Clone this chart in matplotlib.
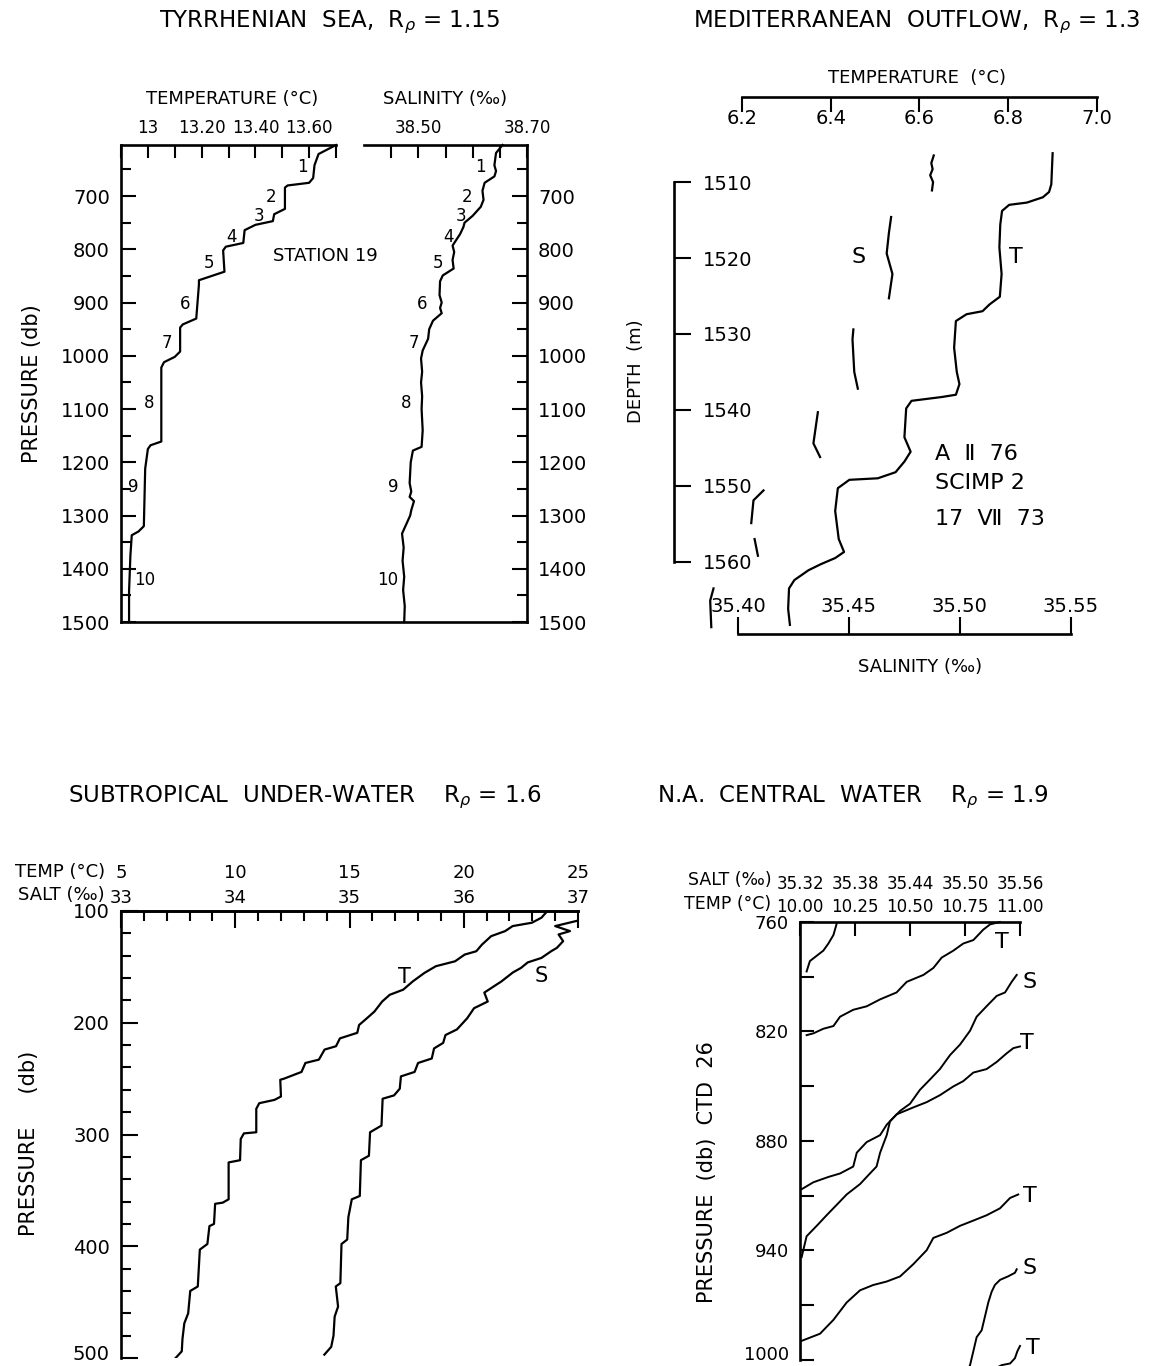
import matplotlib
matplotlib.use("Agg")
import matplotlib.pyplot as plt
from matplotlib.ticker import FixedLocator
from matplotlib.transforms import ScaledTranslation

nan = float("nan")

# --- Tyrrhenian Sea, station 19 (pressure in db) ---
a_temp = [13.70, 13.635, 13.62, 13.615, 13.60, 13.52, 13.51, 13.51, 13.47, 13.465, 13.40, 13.36,
          13.355, 13.29, 13.28, 13.285, 13.19, 13.19, 13.18, 13.13, 13.12, 13.12, 13.10, 13.06,
          13.05, 13.05, 13.01, 13.00, 12.99, 12.985, 12.965, 12.94, 12.935, 12.93, 12.93]
a_temp_p = [604, 621, 642, 666, 675, 680, 684, 724, 734, 747, 754, 764, 788, 795, 802, 842, 858,
            866, 930, 941, 947, 992, 1002, 1012, 1022, 1161, 1168, 1175, 1212, 1320, 1330, 1337,
            1375, 1442, 1500]
a_sal = [38.655, 38.643, 38.640, 38.643, 38.640, 38.622, 38.618, 38.620, 38.615, 38.600, 38.585,
         38.583, 38.577, 38.570, 38.563, 38.566, 38.563, 38.565, 38.545, 38.540, 38.539, 38.543,
         38.540, 38.543, 38.527, 38.520, 38.518, 38.508, 38.505, 38.507, 38.505, 38.507, 38.506,
         38.508, 38.506, 38.490, 38.486, 38.484, 38.487, 38.484, 38.492, 38.487, 38.485, 38.470,
         38.473, 38.471, 38.474, 38.472, 38.475, 38.474]
a_sal_p = [604, 619, 642, 653, 663, 675, 690, 707, 720, 737, 750, 758, 771, 782, 793, 805, 820, 836,
           849, 860, 886, 900, 910, 920, 934, 950, 968, 990, 1005, 1030, 1050, 1076, 1100, 1140,
           1171, 1178, 1200, 1239, 1255, 1265, 1273, 1290, 1300, 1334, 1360, 1385, 1415, 1440,
           1470, 1500]
a_layers = ['1', '2', '3', '4', '5', '6', '7', '8', '9', '10']
a_layer_t = [13.576, 13.46, 13.413, 13.31, 13.228, 13.14, 13.07, 13.003, 12.944, 12.99]
a_layer_s = [38.615, 38.59, 38.578, 38.556, 38.537, 38.507, 38.492, 38.478, 38.453, 38.443]
a_layer_p = [646, 702, 737, 777, 825, 902, 975, 1088, 1246, 1422]

# --- Mediterranean outflow (depth in m) ---
b_temp = [6.90, 6.897, 6.892, 6.878, 6.842, 6.802, 6.786, 6.782, 6.78, 6.785, 6.781, 6.758, 6.742,
          6.706, 6.682, 6.678, 6.684, 6.69, 6.682, 6.65, 6.582, 6.57, 6.566, 6.58, 6.566, 6.546,
          6.506, 6.442, 6.416, 6.41, 6.418, 6.43, 6.41, 6.378, 6.35, 6.318, 6.306, 6.304, 6.308]
b_temp_d = [1506.2, 1510.3, 1511.3, 1512.0, 1512.7, 1513.0, 1513.8, 1515.6, 1518.6, 1522.1, 1525.1,
            1526.1, 1527.0, 1527.4, 1528.3, 1531.8, 1535.0, 1536.6, 1538.0, 1538.3, 1538.8, 1539.8,
            1543.6, 1545.5, 1546.8, 1548.2, 1549.0, 1549.2, 1550.3, 1553.3, 1557.0, 1558.7, 1559.5,
            1560.3, 1561.1, 1562.4, 1563.5, 1566.2, 1568.3]
b_sal = [35.4882, 35.4871, 35.4877, 35.4866, 35.4879, 35.4874, nan,
         35.469, 35.468, 35.467, 35.4696, 35.468, nan,
         35.452, 35.4516, 35.4524, 35.454, nan,
         35.436, 35.434, 35.437, nan,
         35.4115, 35.407, 35.406, nan,
         35.4075, 35.409, nan,
         35.389, 35.3875, 35.388]
b_sal_d = [1506.5, 1507.5, 1508.3, 1509.1, 1510.0, 1511.1, nan,
           1514.6, 1516.7, 1519.4, 1522.1, 1525.3, nan,
           1529.4, 1530.7, 1535.0, 1537.2, nan,
           1540.3, 1544.4, 1546.2, nan,
           1550.6, 1551.9, 1554.9, nan,
           1557.0, 1559.2, nan,
           1563.5, 1565.1, 1568.6]

# --- Subtropical under-water (pressure in db) ---
c_temp = [23.66, 23.4, 22.98, 22.14, 21.81, 21.2, 20.8, 20.55, 20.04, 19.62, 18.78, 18.28, 17.77,
          17.35, 16.76, 16.43, 16.09, 15.76, 15.42, 15.34, 14.58, 14.41, 13.91, 13.66, 13.07, 12.9,
          12.14, 11.97, 12.0, 11.72, 11.05, 10.92, 10.92, 10.38, 10.24, 10.21, 9.71, 9.71, 9.45,
          9.12, 9.07, 8.87, 8.78, 8.45, 8.36, 8.03, 7.94, 7.77, 7.69, 7.66, 7.39]
c_temp_p = [100, 106, 110.5, 113.5, 118, 122.5, 130, 136, 139, 145, 149.4, 155.4, 163, 170.4, 175,
            181, 190, 196, 202, 209, 214, 221, 224, 233, 236, 244, 250, 251, 266, 269, 272, 277,
            298, 299, 304, 323, 325, 358, 361, 362, 380, 382, 398, 403, 436, 440, 460, 469, 483,
            494, 500]
c_sal = [36.983, 36.80, 36.93, 36.83, 36.87, 36.815, 36.765, 36.68, 36.56, 36.5, 36.43, 36.33,
         36.24, 36.18, 36.21, 36.09, 36.03, 35.94, 35.84, 35.82, 35.74, 35.72, 35.6, 35.57, 35.45,
         35.44, 35.39, 35.29, 35.28, 35.18, 35.17, 35.1, 35.09, 35.02, 34.99, 34.98, 34.93, 34.92,
         34.88, 34.9, 34.87, 34.86, 34.84, 34.78]
c_sal_p = [109, 113.5, 118, 121, 127, 133, 136, 142, 146, 151, 155, 163, 169, 173, 181, 187, 196,
           206, 211, 218, 223, 232, 236, 244, 248, 259, 265, 268, 292, 298, 319, 323, 355, 358,
           374, 394, 398, 433, 436, 454, 463, 480, 490, 497]

# --- N.A. Central Water, CTD 26 (pressure in db) ---
d_temp = [10.030, 10.045, 10.076, 10.106, 10.129, 10.152, 10.167, nan,
          10.030, 10.061, 10.106, 10.152, 10.182, 10.242, 10.303, 10.364, 10.439, 10.485, 10.561,
          10.606, 10.644, 10.697, 10.742, 10.788, 10.833, 10.864, 10.909, nan,
          10.0076, 10.061, 10.129, 10.182, 10.242, 10.258, 10.303, 10.364, 10.394, 10.439, 10.515,
          10.576, 10.636, 10.697, 10.742, 10.788, 10.848, 10.894, 10.939, 10.970, 11.0, nan,
          10.0076, 10.091, 10.152, 10.212, 10.273, 10.333, 10.394, 10.455, 10.515, 10.576, 10.606,
          10.667, 10.727, 10.788, 10.848, 10.909, 10.955, 10.992, nan,
          10.871, 10.886, 10.917, 10.955, 10.977, 10.988, 11.0]
d_temp_p = [787.1, 781.4, 778.5, 775.7, 771.8, 767.1, 760.8, nan,
            822.0, 821.0, 818.5, 817.0, 811.9, 808.1, 806.2, 802.4, 798.6, 792.8, 789.0,
            785.2, 779.5, 775.7, 771.8, 769.9, 764.2, 761.3, 760.0, nan,
            906.4, 902.6, 899.7, 897.8, 894.0, 886.4, 880.6, 876.8, 871.1, 865.4, 861.6,
            858.7, 854.9, 850.1, 847.2, 842.5, 840.6, 836.7, 832.0, 829.1, 828.2, nan,
            989.5, 985.6, 978.0, 968.5, 961.8, 958.9, 957.0, 954.2, 947.5, 939.8, 933.1,
            930.3, 926.5, 923.6, 920.7, 916.9, 911.2, 909.3, nan,
            1008.5, 1004.7, 1002.8, 1001.9, 999.0, 995.2, 992.3]
d_sal = [35.3218, 35.3272, 35.3382, 35.349, 35.36, 35.3709, 35.3855, 35.3963, 35.4035, 35.4074,
         35.4146, 35.4182, 35.4292, 35.44, 35.4508, 35.4618, 35.4726, 35.4837, 35.4945, 35.5055,
         35.5127, 35.5235, 35.5346, 35.5437, 35.5509, 35.5564, nan,
         35.5, 35.5055, 35.5091, 35.5127, 35.5182, 35.5218, 35.5254, 35.529, 35.5326, 35.5382,
         35.5473, 35.5545, 35.5564]
d_sal_p = [943.6, 932.2, 926.5, 920.7, 915.0, 909.3, 903.6, 897.8, 894.0, 886.4, 876.8, 869.2,
           863.5, 859.6, 852.0, 846.3, 840.6, 832.9, 827.2, 819.6, 811.9, 806.2, 800.5, 798.6,
           792.8, 789.0, nan,
           1008.5, 1002.8, 995.2, 987.5, 983.7, 976.1, 968.5, 962.7, 958.9, 956.1, 954.1, 952.2,
           950.3]
d_tags = ['T', 'S', 'T', 'T', 'S', 'T']
d_tag_t = [10.917, 11.045, 11.03, 11.045, 11.045, 11.06]
d_tag_p = [770.9, 792.8, 826.2, 910.2, 949.4, 993.3]

W, H = 1159, 1366
LW = 1.6
plt.rcParams['font.family'] = ['DejaVu Sans']
plt.rcParams['axes.linewidth'] = 1.9
for k in ['xtick.major.width', 'ytick.major.width', 'xtick.minor.width', 'ytick.minor.width']:
    plt.rcParams[k] = 1.5

fig = plt.figure(figsize=(W / 100, H / 100), dpi=100)


def box(l, t, r, b):
    # axes placed by pixel edges of the reference
    return fig.add_axes([l / W, 1 - b / H, (r - l) / W, (b - t) / H])


def only_spines(ax, keep):
    for name, sp in ax.spines.items():
        sp.set_visible(name in keep)
    ax.set_facecolor('none')


def title(x, y, s):
    fig.text(x / W, 1 - y / H, s, ha='center', va='center', fontsize=16.5)


def lift_last_ylabel(ax, px):
    # bottom tick label sits at the page edge; nudge it up a few pixels
    lbl = ax.get_yticklabels()[-1]
    lbl.set_transform(lbl.get_transform() + ScaledTranslation(0, px / 100, fig.dpi_scale_trans))


# ================= TYRRHENIAN SEA =================
title(329, 22, r'TYRRHENIAN  SEA,  R$_\rho$ = 1.15')
axA = box(121, 145, 527, 622)
axA.set_ylim(1500, 604)
only_spines(axA, ['left', 'right', 'bottom'])
axA.set_xticks([])
axA.yaxis.set_major_locator(FixedLocator(range(700, 1501, 100)))
axA.yaxis.set_minor_locator(FixedLocator(range(650, 1451, 100)))
axA.tick_params(axis='y', which='both', direction='in', left=True, right=True,
                labelleft=True, labelright=True, labelsize=14, pad=8)
axA.tick_params(axis='y', which='major', length=11)
axA.tick_params(axis='y', which='minor', length=7)
axA.set_ylabel('PRESSURE (db)', fontsize=15)
axA.yaxis.set_label_coords(-0.195, 0.5)

axT = box(121, 145, 336, 622)
axT.set_ylim(1500, 604)
axT.set_xlim(12.90, 13.70)
only_spines(axT, ['top'])
axT.set_yticks([])
axT.xaxis.tick_top()
axT.set_xticks([13.0, 13.2, 13.4, 13.6], labels=['13', '13.20', '13.40', '13.60'])
axT.xaxis.set_minor_locator(FixedLocator([12.9, 13.1, 13.3, 13.5, 13.7]))
axT.tick_params(axis='x', which='both', direction='in', length=9, labelsize=12, pad=6)
axT.set_xlabel('TEMPERATURE (°C)', fontsize=13)
axT.xaxis.set_label_position('top')
axT.xaxis.set_label_coords(0.516, 1.086)
axT.plot(a_temp, a_temp_p, color='k', lw=LW, clip_on=False)
for lab, t, p in zip(a_layers, a_layer_t, a_layer_p):
    axT.text(t, p, lab, fontsize=12, ha='center', va='center')
axT.text(13.66, 812, 'STATION 19', fontsize=13, ha='center', va='center')

axS = box(364, 145, 527, 622)
axS.set_ylim(1500, 604)
axS.set_xlim(38.40, 38.70)
only_spines(axS, ['top'])
axS.set_yticks([])
axS.xaxis.tick_top()
axS.set_xticks([38.50, 38.70], labels=['38.50', '38.70'])
axS.xaxis.set_minor_locator(FixedLocator([38.45, 38.55, 38.60, 38.65]))
axS.tick_params(axis='x', which='both', direction='in', length=9, labelsize=12, pad=6)
axS.set_xlabel('SALINITY (‰)', fontsize=13)
axS.xaxis.set_label_position('top')
axS.xaxis.set_label_coords(0.497, 1.086)
axS.plot(a_sal, a_sal_p, color='k', lw=LW, clip_on=False)
for lab, s, p in zip(a_layers, a_layer_s, a_layer_p):
    axS.text(s, p, lab, fontsize=12, ha='center', va='center')

# ================= MEDITERRANEAN OUTFLOW =================
title(917, 22, r'MEDITERRANEAN  OUTFLOW,  R$_\rho$ = 1.3')
axB = box(674, 97, 1120, 634)
axB2 = axB.twiny()  # salinity scale, drawn along the bottom
axB.set_xlim(6.0468, 7.0518)
axB.set_ylim(1569.5, 1498.8)
only_spines(axB, ['top', 'left'])
axB.spines['top'].set_bounds(6.2, 7.0)
axB.spines['left'].set_bounds(1510, 1560)
axB.xaxis.tick_top()
axB.set_xticks([6.2, 6.4, 6.6, 6.8, 7.0], labels=['6.2', '6.4', '6.6', '6.8', '7.0'])
axB.tick_params(axis='x', direction='in', length=11, labelsize=14, pad=-9)
plt.setp(axB.get_xticklabels(), va='top')
axB.set_yticks(range(1510, 1561, 10))
axB.tick_params(axis='y', direction='in', length=12, labelsize=14, pad=-21)
plt.setp(axB.get_yticklabels(), ha='left')
axB.set_xlabel('TEMPERATURE  (°C)', fontsize=13)
axB.xaxis.set_label_position('top')
axB.xaxis.set_label_coords(0.545, 1.026)
axB.set_ylabel('DEPTH  (m)', fontsize=13)
axB.yaxis.set_label_coords(-0.065, 0.49)
axB.plot(b_temp, b_temp_d, color='k', lw=LW)
axB.text(6.462, 1519.9, 'S', fontsize=16, ha='center', va='center')
axB.text(6.818, 1519.9, 'T', fontsize=16, ha='center', va='center')
axB.text(6.634, 1545.8, 'A  Ⅱ  76', fontsize=16, ha='left', va='center')
axB.text(6.634, 1549.6, 'SCIMP 2', fontsize=16, ha='left', va='center')
axB.text(6.634, 1554.4, '17  Ⅶ  73', fontsize=16, ha='left', va='center')

axB2.set_xlim(35.3712, 35.5721)
only_spines(axB2, ['bottom'])
axB2.spines['bottom'].set_bounds(35.40, 35.55)
axB2.xaxis.tick_bottom()
axB2.set_xticks([35.40, 35.45, 35.50, 35.55], labels=['35.40', '35.45', '35.50', '35.55'])
axB2.tick_params(axis='x', direction='in', length=12, labelsize=14, pad=-13)
plt.setp(axB2.get_xticklabels(), va='bottom')
axB2.set_xlabel('SALINITY (‰)', fontsize=13)
axB2.xaxis.set_label_position('bottom')
axB2.xaxis.set_label_coords(0.552, -0.045)
axB2.plot(b_sal, b_sal_d, color='k', lw=LW, clip_on=False)

# ================= SUBTROPICAL UNDER-WATER =================
title(305, 797, r'SUBTROPICAL  UNDER-WATER    R$_\rho$ = 1.6')
axC = box(121, 911, 578, 1358)
axC2 = axC.twiny()  # salinity scale
axC.set_xlim(5, 25)
axC.set_ylim(500, 100)
only_spines(axC, ['left', 'top'])
axC.yaxis.set_major_locator(FixedLocator(range(100, 501, 100)))
axC.yaxis.set_minor_locator(FixedLocator([v for v in range(120, 500, 20) if v % 100]))
axC.tick_params(axis='y', which='both', direction='in', labelsize=14, pad=8)
axC.tick_params(axis='y', which='major', length=12)
axC.tick_params(axis='y', which='minor', length=7)
axC.xaxis.tick_top()
axC.set_xticks([5, 10, 15, 20, 25])
axC.tick_params(axis='x', direction='in', length=0, labelsize=13, pad=21)
axC.set_ylabel('PRESSURE     (db)', fontsize=15)
axC.yaxis.set_label_coords(-0.18, 0.48)
axC.text(-0.035, 1.087, 'TEMP (°C)', transform=axC.transAxes, fontsize=13,
         ha='right', va='center')
axC.text(-0.035, 1.036, 'SALT (‰)', transform=axC.transAxes, fontsize=13,
         ha='right', va='center')
axC.plot(c_temp, c_temp_p, color='k', lw=LW)
axC.text(17.4, 159, 'T', fontsize=15, ha='center', va='center')
axC.text(23.4, 158, 'S', fontsize=15, ha='center', va='center')
lift_last_ylabel(axC, 6)

axC2.set_xlim(33, 37)
only_spines(axC2, ['top'])
axC2.xaxis.tick_top()
axC2.set_xticks([33, 34, 35, 36, 37])
axC2.xaxis.set_minor_locator(FixedLocator([33 + 0.2 * i for i in range(1, 20) if i % 5]))
axC2.tick_params(axis='x', which='both', direction='in', labelsize=13, pad=3)
axC2.tick_params(axis='x', which='major', length=12)
axC2.tick_params(axis='x', which='minor', length=7)
axC2.plot(c_sal, c_sal_p, color='k', lw=LW, clip_on=False)

# ================= N.A. CENTRAL WATER =================
title(853, 797, r'N.A.  CENTRAL  WATER    R$_\rho$ = 1.9')
axD = box(800, 922, 1020, 1360)
axD2 = axD.twiny()  # salinity scale
axD.set_xlim(10.0, 11.0)
axD.set_ylim(1000, 760)
only_spines(axD, ['left', 'top'])
axD.yaxis.set_major_locator(FixedLocator([760, 820, 880, 940, 1000]))
axD.yaxis.set_minor_locator(FixedLocator([790, 850, 910, 970]))
axD.tick_params(axis='y', which='both', direction='in', length=10, labelsize=13, pad=8)
axD.xaxis.tick_top()
axD.set_xticks([10.0, 10.25, 10.5, 10.75, 11.0],
               labels=['10.00', '10.25', '10.50', '10.75', '11.00'])
axD.tick_params(axis='x', direction='in', length=10, labelsize=12, pad=4)
axD.set_ylabel('PRESSURE  (db)  CTD  26', fontsize=15)
axD.yaxis.set_label_coords(-0.377, 0.43)
axD.text(-0.13, 1.095, 'SALT (‰)', transform=axD.transAxes, fontsize=12.5,
         ha='right', va='center')
axD.text(-0.13, 1.041, 'TEMP (°C)', transform=axD.transAxes, fontsize=12.5,
         ha='right', va='center')
axD.plot(d_temp, d_temp_p, color='k', lw=1.4, clip_on=False)
for lab, t, p in zip(d_tags, d_tag_t, d_tag_p):
    axD.text(t, p, lab, fontsize=16, ha='center', va='center')
lift_last_ylabel(axD, 7)

axD2.set_xlim(35.32, 35.56)
only_spines(axD2, [])
axD2.xaxis.tick_top()
axD2.set_xticks([35.32, 35.38, 35.44, 35.50, 35.56],
                labels=['35.32', '35.38', '35.44', '35.50', '35.56'])
axD2.tick_params(axis='x', direction='in', length=0, labelsize=12, pad=21)
axD2.plot(d_sal, d_sal_p, color='k', lw=1.4, clip_on=False)

fig.savefig('out.png', dpi=100, facecolor='white')
